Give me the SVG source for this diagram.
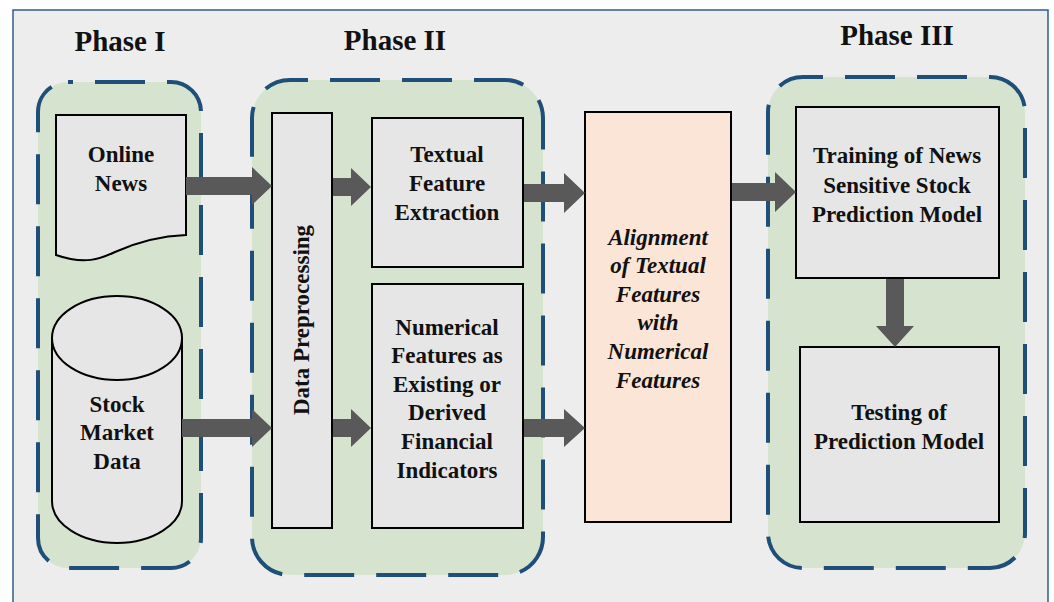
<svg xmlns="http://www.w3.org/2000/svg" width="1054" height="602" viewBox="0 0 1054 602">
<style>
.phase{fill:#d6e4cf;stroke:#1f4e79;stroke-width:4;stroke-dasharray:50 22}
.box{fill:#e6e6e6;stroke:#000;stroke-width:2}
.t{font-family:"Liberation Serif","Times New Roman",serif;font-weight:bold;font-size:23px;text-anchor:middle;fill:#111}
.ph{font-family:"Liberation Serif","Times New Roman",serif;font-weight:bold;font-size:29px;text-anchor:middle;fill:#111}
.it{font-style:italic}
.arr{fill:#595959}
</style>
<rect x="0" y="0" width="1054" height="602" fill="#ffffff"/>
<rect x="13" y="10" width="1035" height="600" fill="#ededed" stroke="#2e5c8a" stroke-width="1.5"/>

<g id="phase1">
<rect class="phase" x="38" y="82" width="163" height="486" rx="30" stroke-dashoffset="45"/>
<text class="ph" x="120" y="51">Phase I</text>
</g>
<g id="phase2">
<rect class="phase" x="252" y="80" width="291" height="495" rx="38" stroke-dashoffset="32"/>
<text class="ph" x="395" y="50">Phase II</text>
</g>
<g id="phase3">
<rect class="phase" x="768" y="77" width="257" height="491" rx="35" stroke-dashoffset="30"/>
<text class="ph" x="897" y="45">Phase III</text>
</g>

<g id="online-news">
<path class="box" d="M56,115 H186 V235 C160,236 135,243 115,252 C100,259 85,265 56,255 Z"/>
<text class="t" x="121" y="162">Online</text>
<text class="t" x="121" y="191">News</text>
</g>

<g id="stock-market-data">
<path class="box" d="M52,338 V501 A65,42 0 0 0 182,501 V338"/>
<ellipse class="box" cx="117" cy="338" rx="65" ry="42"/>
<text class="t" x="117" y="412">Stock</text>
<text class="t" x="117" y="440">Market</text>
<text class="t" x="117" y="469">Data</text>
</g>

<g id="data-preprocessing">
<rect class="box" x="272" y="113" width="60" height="415"/>
<text class="t" transform="translate(309,320) rotate(-90)">Data Preprocessing</text>
</g>

<g id="textual-feature-extraction">
<rect class="box" x="372" y="118" width="151" height="149"/>
<text class="t" x="447" y="162">Textual</text>
<text class="t" x="447" y="191">Feature</text>
<text class="t" x="447" y="220">Extraction</text>
</g>

<g id="numerical-features">
<rect class="box" x="372" y="284" width="151" height="244"/>
<text class="t" x="447" y="335">Numerical</text>
<text class="t" x="447" y="363">Features as</text>
<text class="t" x="447" y="392">Existing or</text>
<text class="t" x="447" y="420">Derived</text>
<text class="t" x="447" y="449">Financial</text>
<text class="t" x="447" y="478">Indicators</text>
</g>

<g id="alignment">
<rect x="585" y="112" width="146" height="410" fill="#fbe5d6" stroke="#000" stroke-width="2"/>
<text class="t it" x="658" y="245">Alignment</text>
<text class="t it" x="658" y="273">of Textual</text>
<text class="t it" x="658" y="302">Features</text>
<text class="t it" x="658" y="330">with</text>
<text class="t it" x="658" y="359">Numerical</text>
<text class="t it" x="658" y="388">Features</text>
</g>

<g id="training">
<rect class="box" x="796" y="107" width="203" height="171"/>
<text class="t" x="897" y="163">Training of News</text>
<text class="t" x="897" y="193">Sensitive Stock</text>
<text class="t" x="897" y="222">Prediction Model</text>
</g>

<g id="testing">
<rect class="box" x="800" y="347" width="199" height="175"/>
<text class="t" x="899" y="420">Testing of</text>
<text class="t" x="899" y="449">Prediction Model</text>
</g>

<g id="connectors">
<polygon class="arr" points="186,177 252,177 252,167 272,186 252,205 252,195 186,195"/>
<polygon class="arr" points="182,419 252,419 252,409 272,428 252,447 252,437 182,437"/>
<polygon class="arr" points="333,178 351,178 351,168 371,187 351,206 351,196 333,196"/>
<polygon class="arr" points="333,419 351,419 351,409 371,428 351,447 351,437 333,437"/>
<polygon class="arr" points="524,184 564,184 564,173 585,193 564,213 564,202 524,202"/>
<polygon class="arr" points="524,419 564,419 564,409 585,428 564,447 564,437 524,437"/>
<polygon class="arr" points="732,183 775,183 775,172 796,192 775,212 775,201 732,201"/>
<polygon class="arr" points="886,279 904,279 904,326 914,326 895,347 876,326 886,326"/>
</g>
</svg>
